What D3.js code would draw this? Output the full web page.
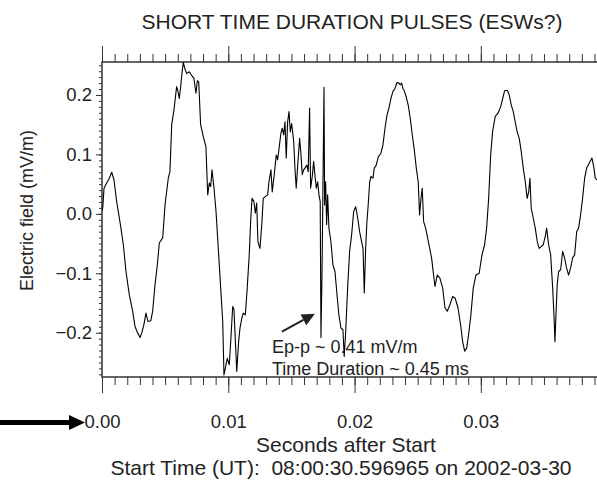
<!DOCTYPE html>
<html>
<head>
<meta charset="utf-8">
<script src="https://cdn.jsdelivr.net/npm/d3@7"></script>
<style>
body { margin: 0; background: #fff; }
text { font-family: 'Liberation Sans', Arial, sans-serif; fill: #222; }
</style>
</head>
<body>
<script>
// waveform: time in ms, field in mV/m
const timeMs = [0.00, 0.06, 0.16, 0.37, 0.58, 0.77, 0.95, 1.16, 1.48, 1.69, 1.90, 2.16, 2.43, 2.61, 2.79, 3.01, 3.17, 3.33, 3.48, 3.64,
    3.86, 4.01, 4.20, 4.38, 4.54, 4.81, 4.99, 5.25, 5.38, 5.52, 5.70, 5.91, 6.02, 6.12, 6.23, 6.33, 6.44, 6.55, 6.71, 6.91,
    7.13, 7.28, 7.44, 7.55, 7.66, 7.81, 8.02, 8.23, 8.37, 8.50, 8.61, 8.71, 8.87, 9.03, 9.24, 9.40, 9.56, 9.66, 9.82, 9.92,
    10.08, 10.21, 10.35, 10.45, 10.55, 10.67, 10.82, 10.93, 11.08, 11.19, 11.35, 11.50, 11.66, 11.77, 11.88, 12.03, 12.14, 12.25, 12.35, 12.51,
    12.67, 12.77, 12.93, 13.12, 13.22, 13.38, 13.48, 13.64, 13.80, 13.91, 14.01, 14.17, 14.28, 14.39, 14.49, 14.59, 14.70, 14.81, 14.91, 15.02,
    15.18, 15.28, 15.38, 15.50, 15.65, 15.76, 15.86, 15.97, 16.07, 16.23, 16.33, 16.44, 16.52, 16.65, 16.76, 16.86, 16.97, 17.08, 17.18, 17.28,
    17.34, 17.42, 17.50, 17.58, 17.63, 17.71, 17.79, 17.87, 17.97, 18.13, 18.29, 18.45, 18.61, 18.76, 18.92, 19.08, 19.18, 19.30, 19.45, 19.61,
    19.77, 19.93, 20.09, 20.25, 20.40, 20.56, 20.67, 20.77, 20.88, 20.98, 21.08, 21.20, 21.30, 21.46, 21.56, 21.72, 21.88, 22.09, 22.25, 22.41,
    22.57, 22.72, 22.88, 23.04, 23.20, 23.36, 23.52, 23.62, 23.73, 23.83, 23.94, 24.09, 24.25, 24.41, 24.57, 24.73, 24.89, 25.04, 25.15, 25.26,
    25.36, 25.47, 25.63, 25.79, 25.95, 26.10, 26.26, 26.37, 26.55, 26.76, 26.98, 27.16, 27.34, 27.55, 27.77, 27.97, 28.19, 28.40, 28.56, 28.72,
    28.88, 29.03, 29.19, 29.40, 29.61, 29.87, 30.09, 30.30, 30.46, 30.62, 30.78, 30.93, 31.14, 31.35, 31.57, 31.73, 31.88, 32.09, 32.25, 32.41,
    32.57, 32.72, 32.88, 33.04, 33.20, 33.36, 33.52, 33.67, 33.79, 33.89, 33.99, 34.15, 34.31, 34.47, 34.62, 34.78, 34.94, 35.10, 35.21, 35.37,
    35.53, 35.69, 35.79, 35.87, 35.95, 36.05, 36.16, 36.32, 36.48, 36.63, 36.79, 36.95, 37.11, 37.27, 37.43, 37.59, 37.74, 37.90, 38.06, 38.22,
    38.38, 38.58, 38.80, 38.96, 39.06, 39.22];
const eField = [0.005, 0.010, 0.043, 0.052, 0.060, 0.070, 0.057, 0.021, -0.021, -0.052, -0.097, -0.136, -0.164, -0.189, -0.199, -0.208, -0.199, -0.185, -0.167, -0.181,
    -0.180, -0.164, -0.119, -0.086, -0.049, -0.040, 0.015, 0.060, 0.071, 0.150, 0.175, 0.214, 0.206, 0.194, 0.214, 0.236, 0.255, 0.245, 0.236, 0.239,
    0.232, 0.228, 0.203, 0.224, 0.222, 0.150, 0.130, 0.113, 0.032, 0.052, 0.046, 0.074, 0.043, 0.004, -0.069, -0.125, -0.181, -0.271, -0.254, -0.243,
    -0.254, -0.209, -0.156, -0.161, -0.209, -0.265, -0.215, -0.192, -0.175, -0.167, -0.170, -0.125, -0.069, -0.013, 0.026, 0.021, 0.001, 0.018, -0.047, -0.058,
    -0.013, 0.026, 0.029, 0.032, 0.054, 0.074, 0.037, 0.066, 0.099, 0.091, 0.108, 0.136, 0.144, 0.133, 0.155, 0.094, 0.155, 0.172, 0.138, 0.152,
    0.122, 0.077, 0.043, 0.082, 0.127, 0.099, 0.066, 0.074, 0.077, 0.082, 0.071, 0.178, 0.043, 0.063, 0.088, 0.066, 0.043, 0.054, 0.032, 0.021,
    -0.208, -0.103, 0.049, 0.213, 0.015, 0.054, -0.018, 0.032, -0.024, -0.047, -0.086, -0.097, -0.136, -0.170, -0.192, -0.195, -0.240, -0.198, -0.125, -0.063,
    -0.035, 0.004, 0.012, -0.007, -0.030, -0.047, -0.058, -0.133, -0.058, -0.013, 0.015, 0.054, 0.063, 0.060, 0.077, 0.082, 0.096, 0.102, 0.116, 0.144,
    0.166, 0.178, 0.194, 0.206, 0.211, 0.221, 0.220, 0.217, 0.220, 0.211, 0.207, 0.197, 0.183, 0.161, 0.133, 0.108, 0.077, 0.054, -0.002, 0.026,
    0.043, -0.013, -0.024, -0.041, -0.058, -0.074, -0.103, -0.122, -0.103, -0.108, -0.125, -0.158, -0.164, -0.153, -0.139, -0.142, -0.158, -0.187, -0.215, -0.231,
    -0.226, -0.203, -0.175, -0.125, -0.103, -0.100, -0.069, -0.052, -0.024, 0.026, 0.099, 0.138, 0.164, 0.169, 0.180, 0.194, 0.207, 0.208, 0.200, 0.183,
    0.172, 0.155, 0.138, 0.127, 0.105, 0.077, 0.054, 0.026, 0.037, 0.060, 0.010, -0.007, -0.024, -0.047, -0.058, -0.055, -0.052, -0.038, -0.024, -0.052,
    -0.069, -0.125, -0.170, -0.215, -0.170, -0.119, -0.097, -0.094, -0.063, -0.074, -0.091, -0.103, -0.091, -0.074, -0.069, -0.030, -0.024, -0.002, 0.026, 0.060,
    0.077, 0.085, 0.094, 0.077, 0.060, 0.057];

const xTicks = [0, 0.01, 0.02, 0.03];
const yTicks = [-0.2, -0.1, 0.0, 0.1, 0.2];

const svg = d3.select('body')
    .append('svg')
    .attr('width', 597)
    .attr('height', 480);

const x = d3.scaleLinear()
    .domain([0, 0.0392])
    .range([102, 597]);

const y = d3.scaleLinear()
    .domain([-0.2745, 0.2555])
    .range([377, 62]);

const xMinor = d3.range(0, 40).map(i => i / 1000);
const yMinor = d3.range(-27, 26).map(i => i / 100);

// top axis, ticks only
svg.append('g')
    .attr('transform', `translate(0, ${y.range()[1]})`)
    .attr('color', '#333')
    .call(d3.axisTop(x).tickValues(xMinor).tickSize(8).tickFormat(''))
    .call(g => g.select('.domain').remove());
svg.append('g')
    .attr('transform', `translate(0, ${y.range()[1]})`)
    .attr('color', '#333')
    .call(d3.axisTop(x).tickValues(xTicks).tickSize(16).tickFormat(''))
    .call(g => g.select('.domain').remove());

// bottom axis
svg.append('g')
    .attr('transform', `translate(0, ${y.range()[0]})`)
    .attr('color', '#333')
    .call(d3.axisBottom(x).tickValues(xMinor).tickSize(8).tickFormat(''))
    .call(g => g.select('.domain').remove());
svg.append('g')
    .attr('transform', `translate(0, ${y.range()[0]})`)
    .attr('color', '#333')
    .call(d3.axisBottom(x).tickValues(xTicks).tickSize(16).tickPadding(22).tickFormat(d3.format('.2f')))
    .attr('font-size', 18.5)
    .call(g => g.select('.domain').remove());

// left axis
svg.append('g')
    .attr('transform', `translate(${x.range()[0]}, 0)`)
    .attr('color', '#333')
    .call(d3.axisLeft(y).tickValues(yMinor).tickSize(3).tickFormat(''))
    .call(g => g.select('.domain').remove());
svg.append('g')
    .attr('transform', `translate(${x.range()[0]}, 0)`)
    .attr('color', '#333')
    .call(d3.axisLeft(y).tickValues(yTicks).tickSize(6).tickPadding(4).tickFormat(d3.format('.1f')))
    .attr('font-size', 18.5)
    .call(g => g.select('.domain').remove());

// frame
svg.append('path')
    .attr('d', `M${x.range()[1]},${y.range()[1]}H${x.range()[0]}V${y.range()[0]}H${x.range()[1]}`)
    .attr('fill', 'none')
    .attr('stroke', '#333')
    .attr('stroke-width', 1.5);

svg.append('clipPath')
    .attr('id', 'plot')
    .append('rect')
    .attr('x', x.range()[0])
    .attr('y', y.range()[1])
    .attr('width', x.range()[1] - x.range()[0])
    .attr('height', y.range()[0] - y.range()[1]);

const line = d3.line()
    .x((d, i) => x(timeMs[i] / 1000))
    .y(d => y(d));

svg.append('path')
    .datum(eField)
    .attr('clip-path', 'url(#plot)')
    .attr('d', line)
    .attr('fill', 'none')
    .attr('stroke', '#000')
    .attr('stroke-width', 1.1)
    .attr('stroke-linejoin', 'round');

// annotation for the pulse
const tail = [x(0.01425), y(-0.198)];
const tip = [x(0.01686), y(-0.168)];
const ang = Math.atan2(tip[1] - tail[1], tip[0] - tail[0]);
const hl = 13, hw = 6;
const bx = tip[0] - hl * Math.cos(ang), by = tip[1] - hl * Math.sin(ang);
svg.append('line')
    .attr('x1', tail[0]).attr('y1', tail[1])
    .attr('x2', bx).attr('y2', by)
    .attr('stroke', '#222')
    .attr('stroke-width', 2);
svg.append('path')
    .attr('d', `M${tip[0]},${tip[1]}L${bx + hw * Math.sin(ang)},${by - hw * Math.cos(ang)}L${bx - hw * Math.sin(ang)},${by + hw * Math.cos(ang)}Z`)
    .attr('fill', '#222');

svg.append('text')
    .attr('x', x(0.01346))
    .attr('y', y(-0.2336))
    .attr('font-size', 18)
    .text('Ep-p ~ 0.41 mV/m');
svg.append('text')
    .attr('x', x(0.01346))
    .attr('y', y(-0.2706))
    .attr('font-size', 18)
    .text('Time Duration ~ 0.45 ms');

// titles
svg.append('text')
    .attr('x', 352)
    .attr('y', 29)
    .attr('text-anchor', 'middle')
    .attr('font-size', 21)
    .text('SHORT TIME DURATION PULSES (ESWs?)');

svg.append('text')
    .attr('transform', 'translate(33, 210.5) rotate(-90)')
    .attr('text-anchor', 'middle')
    .attr('font-size', 18)
    .text('Electric field (mV/m)');

svg.append('text')
    .attr('x', 346)
    .attr('y', 452)
    .attr('text-anchor', 'middle')
    .attr('font-size', 21)
    .text('Seconds after Start');

svg.append('text')
    .attr('x', 341)
    .attr('y', 475)
    .attr('text-anchor', 'middle')
    .attr('font-size', 21)
    .style('white-space', 'pre')
    .text('Start Time (UT):  08:00:30.596965 on 2002-03-30');

// arrow pointing at the start
svg.append('path')
    .attr('d', 'M0,420H69V415L85,422.5L69,430V425H0Z')
    .attr('fill', '#000');
</script>
</body>
</html>
